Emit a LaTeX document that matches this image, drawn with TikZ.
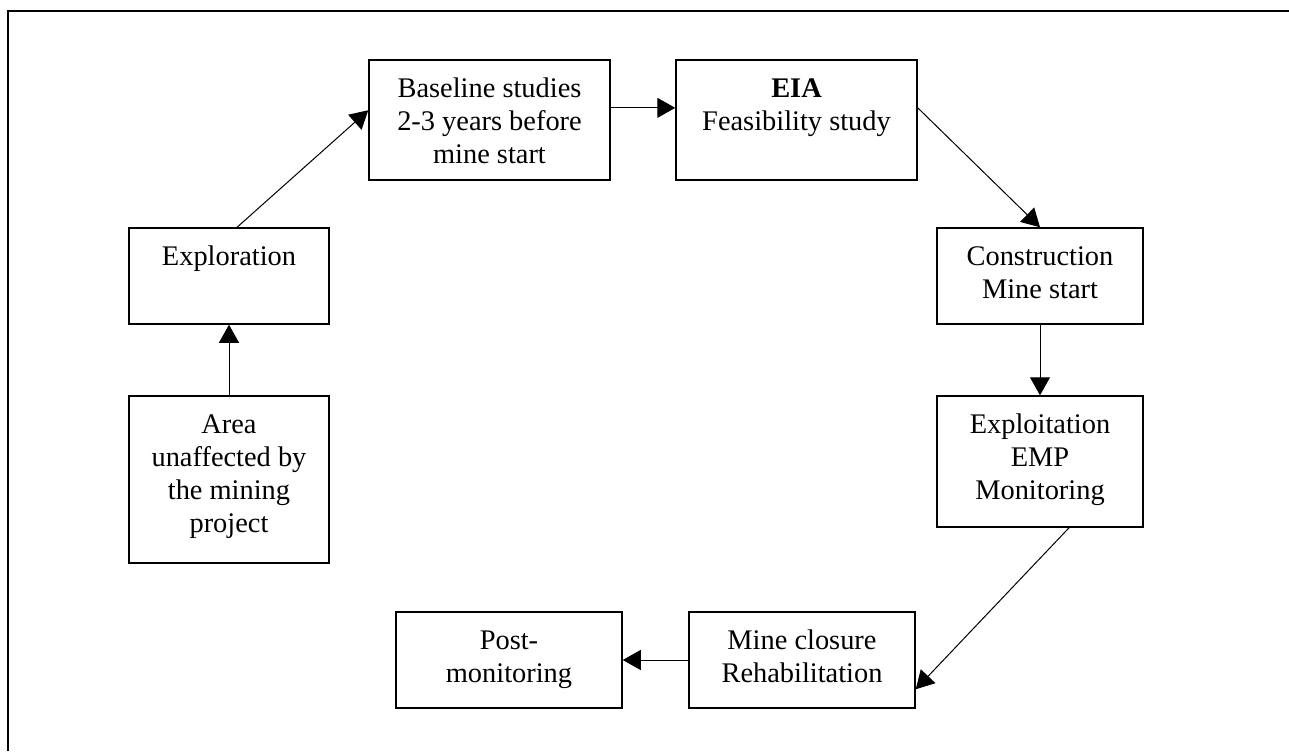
\documentclass[tikz,border=0pt]{standalone}
\usepackage{fontspec}
\setmainfont{Liberation Serif}
\usetikzlibrary{arrows.meta,calc}

\newcommand{\stagelines}[3]{\parbox[c][#2][t]{#1}{\centering\rule{0pt}{18.5pt}#3}}

\begin{document}
\begin{tikzpicture}[x=0.5pt,y=-0.5pt,
        stage/.style={draw, line width=0.75pt, inner sep=0pt, font=\fontsize{14.2}{16.5}\selectfont},
        flow/.style={-{Triangle[length=9pt,width=10pt]}, line width=0.5pt}]
        \useasboundingbox (0,0) rectangle (1289,751);
        \draw[line width=1pt] (8,751) -- (8,11) -- (1289,11);

        \node[stage] (area) at (229,479.5) {\stagelines{100pt}{83.5pt}{Area\\unaffected by\\the mining\\project}};
        \node[stage] (explore) at (229,276) {\stagelines{100pt}{48pt}{Exploration}};
        \node[stage] (base) at (489.5,120) {\stagelines{120.5pt}{60pt}{Baseline studies\\2-3 years before\\mine start}};
        \node[stage] (eia) at (796.5,120) {\stagelines{120.5pt}{60pt}{\textbf{EIA}\\Feasibility study}};
        \node[stage] (constr) at (1040,276) {\stagelines{103pt}{48pt}{Construction\\Mine start}};
        \node[stage] (exploit) at (1040,461.5) {\stagelines{103pt}{65.5pt}{Exploitation\\EMP\\Monitoring}};
        \node[stage] (closure) at (802,660) {\stagelines{113pt}{48pt}{Mine closure\\Rehabilitation}};
        \node[stage] (post) at (509,660) {\stagelines{113pt}{48pt}{Post-\\monitoring}};

        \draw[flow] (area) -- (explore);
        \draw[flow] ($(explore.north west)!0.54!(explore.north east)$) -- ($(base.north west)!0.42!(base.south west)$);
        \draw[flow] ($(base.north east)!0.4!(base.south east)$) -- ($(eia.north west)!0.4!(eia.south west)$);
        \draw[flow] ($(eia.north east)!0.4!(eia.south east)$) -- (constr.north);
        \draw[flow] (constr) -- (exploit);
        \draw[flow] ($(exploit.south west)!0.64!(exploit.south east)$) -- ($(closure.north east)!0.8!(closure.south east)$);
        \draw[flow] (closure) -- (post);
    \end{tikzpicture}
\end{document}
